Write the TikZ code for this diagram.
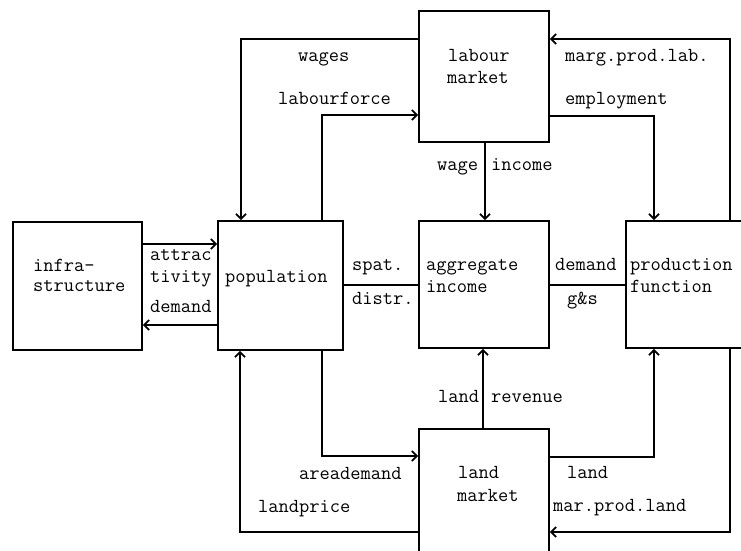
\documentclass[tikz,border=0pt]{standalone}
\usepackage{fontspec}
\usetikzlibrary{arrows.meta}
\newcommand{\lbfont}{\ttfamily\addfontfeature{FakeBold=1}\fontsize{19.9}{22}\selectfont}
\tikzset{
  box/.style={draw, line width=1.8pt, inner sep=0pt},
  conn/.style={line width=1.8pt},
  arr/.style={conn, -{Straight Barb[length=5pt,width=10pt,line width=1.8pt]}},
  lbl/.style={anchor=base west, inner sep=0pt, font=\lbfont}
}
\begin{document}
\begin{tikzpicture}[x=1pt,y=-1pt]
\useasboundingbox (0,0) rectangle (741,551);
\clip (0,0) rectangle (741,551);
\fill[white] (0,0) rectangle (741,551);
% boxes
\node[box, minimum width=130pt, minimum height=131pt] (lab) at (484,76.5) {};
\node[box, minimum width=129pt, minimum height=128pt] (inf) at (77.5,286) {};
\node[box, minimum width=125pt, minimum height=129pt] (pop) at (280.5,285.5) {};
\node[box, minimum width=130pt, minimum height=127pt] (agg) at (484,284.5) {};
\node[box, minimum width=134pt, minimum height=127pt] (prod) at (693,284.5) {};
\node[box, minimum width=130pt, minimum height=141pt] (land) at (484,499.5) {};
% connectors
\draw[arr] (lab.west |- 0,39) -| (pop.north -| 241,0);
\draw[arr] (pop.north -| 322,0) |- (lab.west |- 0,115);
\draw[arr] (lab.south -| 485,0) -- (agg.north -| 485,0);
\draw[arr] (prod.north -| 730,0) |- (lab.east |- 0,39);
\draw[arr] (lab.east |- 0,116) -| (prod.north -| 654,0);
\draw[arr] (inf.east |- 0,244) -- (pop.west |- 0,244);
\draw[arr] (pop.west |- 0,325) -- (inf.east |- 0,325);
\draw[conn] (pop.east |- 0,285) -- (agg.west |- 0,285);
\draw[conn] (agg.east |- 0,285) -- (prod.west |- 0,285);
\draw[arr] (land.north -| 483,0) -- (agg.south -| 483,0);
\draw[arr] (land.east |- 0,457) -| (prod.south -| 654,0);
\draw[arr] (prod.south -| 730,0) |- (land.east |- 0,532);
\draw[arr] (pop.south -| 322,0) |- (land.west |- 0,456);
\draw[arr] (land.west |- 0,532) -| (pop.south -| 240,0);
% texts
\node[lbl] (t1) at (298,61) {wages};
\node[lbl] (t2) at (278,104) {labourforce};
\node[lbl] (t3) at (448,61) {labour};
\node[lbl] (t4) at (447,83) {market};
\node[lbl] (t5) at (437,170) {wage};
\node[lbl] (t6) at (491,170) {income};
\node[lbl] (t7) at (565,61) {marg.prod.lab.};
\node[lbl] (t8) at (565,104) {employment};
\node[lbl] (t9) at (33,271) {infra-};
\node[lbl] (t10) at (33,291) {structure};
\node[lbl] (t11) at (150,260) {attrac};
\node[lbl] (t12) at (150,282) {tivity};
\node[lbl] (t13) at (150,312) {demand};
\node[lbl] (t14) at (225,282) {population};
\node[lbl] (t15) at (352,270) {spat.};
\node[lbl] (t16) at (352,304) {distr.};
\node[lbl] (t17) at (426,270) {aggregate};
\node[lbl] (t18) at (426,292) {income};
\node[lbl] (t19) at (555,270) {demand};
\node[lbl] (t20) at (567,304) {g\&s};
\node[lbl] (t21) at (630,270) {production};
\node[lbl] (t22) at (630,292) {function};
\node[lbl] (t23) at (438,402) {land};
\node[lbl] (t24) at (491,402) {revenue};
\node[lbl] (t25) at (299,479) {areademand};
\node[lbl] (t26) at (258,512) {landprice};
\node[lbl] (t27) at (458,478) {land};
\node[lbl] (t28) at (457,501) {market};
\node[lbl] (t29) at (567,478) {land};
\node[lbl] (t30) at (553,511) {mar.prod.land};
\end{tikzpicture}
\end{document}
